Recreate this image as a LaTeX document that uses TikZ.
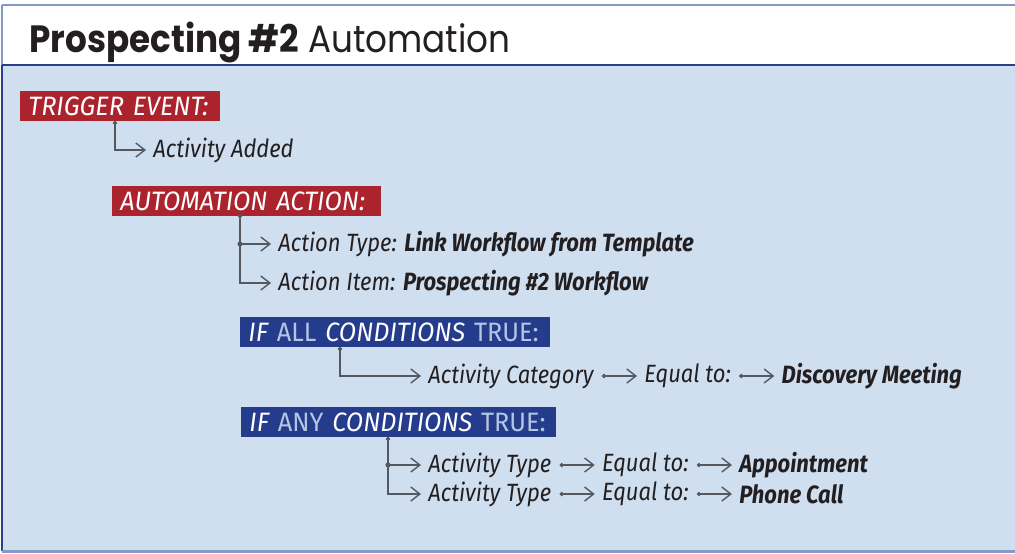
\documentclass[tikz,border=0pt]{standalone}
\usepackage{fontspec}
\setmainfont{Fira Sans}[FakeStretch=0.88]
\newfontfamily\headfont{Poppins}[FakeStretch=0.9]
\newfontfamily\tagfont{Fira Sans}[FakeStretch=0.95]
\usetikzlibrary{arrows.meta,positioning}
\definecolor{PanelBlue}{HTML}{CFDFF0}
\definecolor{EdgeBlue}{HTML}{8598C6}
\definecolor{NavyLine}{HTML}{2B3F8A}
\definecolor{TagRed}{HTML}{AA232D}
\definecolor{TagBlue}{HTML}{253C8C}
\definecolor{TagPale}{HTML}{B4C6E2}
\definecolor{InkGrey}{HTML}{55595F}
\definecolor{TextInk}{HTML}{231F20}
\newcommand\softword[1]{{\upshape\color{TagPale}#1}}

\begin{document}
\begin{tikzpicture}[x=0.5pt,y=-0.5pt,
  node distance=21pt,
  tag/.style={anchor=north west,inner xsep=4pt,inner ysep=0pt,minimum height=15pt,
    align=left,text=white,font=\tagfont\itshape\fontsize{13.3}{13.3}\selectfont},
  redtag/.style={tag,fill=TagRed},
  bluetag/.style={tag,fill=TagBlue},
  entry/.style={anchor=west,inner sep=2pt,text=TextInk,font=\itshape\fontsize{12.5}{13}\selectfont},
  tree/.style={draw=InkGrey,line width=0.7pt,shorten >=1.5pt,-{Straight Barb[length=4.5pt,width=7pt]}},
  treeroot/.style={tree,{Circle[length=2pt]}-{Straight Barb[length=4.5pt,width=7pt]}},
  link/.style={draw=InkGrey,line width=0.7pt,shorten <=2pt,shorten >=1.5pt,
    {Circle[length=2pt]}-{Straight Barb[length=4.5pt,width=7pt]}},
  knot/.style={fill=InkGrey}
]
\useasboundingbox (0,0) rectangle (1015,553);

% panel
\fill[white] (2,5) rectangle (1015,65);
\fill[PanelBlue] (2,65) rectangle (1015,551);
\draw[EdgeBlue,line width=1.2pt] (2,5) -- (1015,5);
\draw[EdgeBlue,line width=0.8pt] (2,5) -- (2,65);
\draw[NavyLine,line width=0.8pt] (2,65) -- (2,551);
\draw[NavyLine,line width=0.8pt] (2,65) -- (1015,65);
\draw[EdgeBlue,line width=1.5pt] (2,551) -- (1015,551);

\node[anchor=base west,inner sep=0pt,text=TextInk,font=\headfont\fontsize{19}{19}\selectfont]
  (title) at (29,52) {\textbf{Prospecting \#2} Automation};

% trigger
\node[redtag,text width=92pt] (trig) at (20,91) {TRIGGER EVENT:};
\node[entry] (added) at (149,150) {Activity Added};
\coordinate (t0) at (115,121);
\draw[treeroot] (t0) |- (added.west);

% action
\node[redtag,text width=126.5pt] (act) at (112,186) {AUTOMATION ACTION:};
\node[entry] (atype) at (274,244) {Action Type: \textbf{Link Workflow from Template}};
\node[entry] (aitem) at (274,283) {Action Item: \textbf{Prospecting \#2 Workflow}};
\coordinate (a0) at (240,214);
\draw[treeroot] (a0) |- (aitem.west);
\draw[tree] (a0) |- (atype.west);
\fill[knot] (a0 |- atype.west) circle (1.3pt);

% all conditions
\node[bluetag,text width=147pt] (all) at (240,317)
  {IF \softword{ALL} CONDITIONS \softword{TRUE:}};
\node[entry] (cat) at (424,376) {Activity Category};
\node[entry,right=of cat] (eqa) {Equal to:};
\node[entry,right=of eqa] (disc) {\textbf{Discovery Meeting}};
\coordinate (c0) at (340,347);
\draw[treeroot] (c0) |- (cat.west);
\draw[link] (cat) -- (eqa);
\draw[link] (eqa) -- (disc);

% any conditions
\node[bluetag,text width=149.5pt] (any) at (241,407)
  {IF \softword{ANY} CONDITIONS \softword{TRUE:}};
\node[entry] (typa) at (424,465) {Activity Type};
\node[entry,right=of typa] (eqb) {Equal to:};
\node[entry,right=of eqb] (appt) {\textbf{Appointment}};
\node[entry] (typb) at (424,494) {Activity Type};
\node[entry,right=of typb] (eqc) {Equal to:};
\node[entry,right=of eqc] (call) {\textbf{Phone Call}};
\coordinate (d0) at (388,437);
\draw[treeroot] (d0) |- (typb.west);
\draw[tree] (d0) |- (typa.west);
\fill[knot] (d0 |- typa.west) circle (1.3pt);
\draw[link] (typa) -- (eqb);
\draw[link] (eqb) -- (appt);
\draw[link] (typb) -- (eqc);
\draw[link] (eqc) -- (call);
\end{tikzpicture}
\end{document}
